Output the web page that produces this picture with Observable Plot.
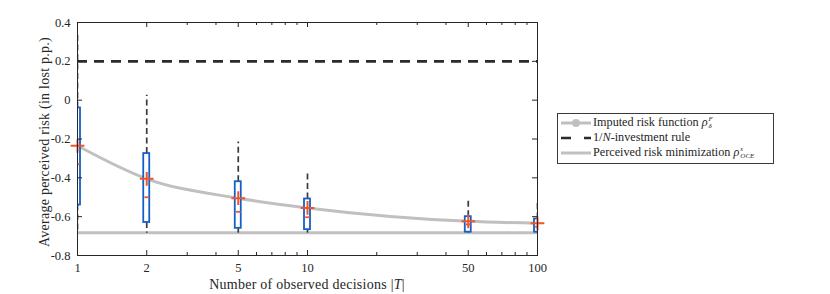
<!DOCTYPE html>
<html>
<head>
<meta charset="utf-8">
<script src="https://cdn.jsdelivr.net/npm/d3@7"></script>
<script src="https://cdn.jsdelivr.net/npm/@observablehq/plot@0.6"></script>
<style>
  body { margin: 0; background: #fff; }
  #wrap { position: relative; width: 830px; height: 294px; font-family: "Liberation Serif", "Times New Roman", Times, "DejaVu Serif", serif; color: #262626; }
  .lab { position: absolute; white-space: nowrap; font-size: 14px; letter-spacing: 0.25px; }
  #ylab { left: 45px; top: 142px; transform: translate(-50%, -50%) rotate(-90deg); }
  #xlab { left: 307px; top: 277px; transform: translateX(-50%); }
  #legend { position: absolute; left: 557px; top: 113px; width: 215px; height: 48px; border: 1px solid #3a3a3a; background: #fff; font-size: 12.2px; padding-top: 1px; }
  .row { display: flex; align-items: center; height: 15px; white-space: nowrap; }
  .row svg { width: 32px; height: 12px; flex: none; margin-left: 2px; margin-right: 1px; }
  .ss { display: inline-flex; flex-direction: column; font-size: 7px; line-height: 7px; vertical-align: middle; font-style: italic; margin-left: 1px; }
</style>
</head>
<body>
<div id="wrap">
  <div id="chart"></div>
  <div class="lab" id="ylab">Average perceived risk (in lost p.p.)</div>
  <div class="lab" id="xlab">Number of observed decisions |<i>T</i>|</div>
  <div id="legend">
    <div class="row"><svg viewBox="0 0 32 12"><line x1="1" x2="31" y1="6" y2="6" stroke="#c0c0c0" stroke-width="3"/><circle cx="16" cy="6" r="4" fill="#c0c0c0"/></svg><span>Imputed risk function <i>ρ</i><span class="ss"><span>F</span><span>δ</span></span></span></div>
    <div class="row"><svg viewBox="0 0 32 12"><line x1="1" x2="31" y1="6" y2="6" stroke="#2b2b2b" stroke-width="2.6" stroke-dasharray="10 13"/></svg><span>1/<i>N</i>-investment rule</span></div>
    <div class="row"><svg viewBox="0 0 32 12"><line x1="1" x2="31" y1="6" y2="6" stroke="#c0c0c0" stroke-width="3"/></svg><span>Perceived risk minimization <i>ρ</i><span class="ss"><span>s</span><span>OCE</span></span></span></div>
  </div>
</div>
<script>
// Number of observed decisions
const decisions = [1, 2, 5, 10, 50, 100];
// Box plot statistics
const whiskerHigh = [0.34, 0.025, -0.215, -0.366, -0.512, -0.53];
const q3 = [-0.04, -0.275, -0.42, -0.509, -0.60, -0.612];
const median = [-0.33, -0.50, -0.575, -0.603, -0.64, -0.652];
const q1 = [-0.54, -0.63, -0.66, -0.667, -0.68, -0.68];
const whiskerLow = [-0.68, -0.685, -0.685, -0.685, -0.685, -0.685];
// Imputed risk function (means)
const imputed = [-0.235, -0.405, -0.505, -0.555, -0.624, -0.634];
// Reference lines
const oneOverN = 0.2;
const perceivedMin = -0.683;
// Ticks
const xTicks = [1, 2, 5, 10, 50, 100];
const xMinor = [3, 4, 6, 7, 8, 9, 20, 30, 40, 60, 70, 80, 90];
const yTicks = [0.4, 0.2, 0, -0.2, -0.4, -0.6, -0.8];

const rows = decisions.map((x, i) => ({
  x, hi: whiskerHigh[i], q3: q3[i], med: median[i], q1: q1[i], lo: whiskerLow[i], mean: imputed[i]
}));

const W = 830, H = 294, mL = 77, mR = 293, mT = 22, mB = 39;
const pw = W - mL - mR, ph = H - mT - mB;

const hline = { draw(ctx, size) { const w = Math.sqrt(size) / 2; ctx.moveTo(-w, 0); ctx.lineTo(w, 0); } };

const blue = "#1560c8", red = "#f0552a", gray = "#c0c0c0", dark = "#262626";

const chart = Plot.plot({
  width: W, height: H,
  marginLeft: mL, marginRight: mR, marginTop: mT, marginBottom: mB,
  style: { fontFamily: "'Liberation Serif', 'Times New Roman', Times, 'DejaVu Serif', serif", fontSize: "12.5px", color: dark, background: "#fff" },
  x: { type: "log", domain: [1, 100] },
  y: { domain: [-0.8, 0.4] },
  marks: [
    Plot.ruleY([oneOverN], { y: d => d, stroke: "#2b2b2b", strokeWidth: 2.6, strokeDasharray: "10 7" }),
    Plot.ruleY([perceivedMin], { y: d => d, stroke: gray, strokeWidth: 3 }),
    Plot.line(rows, { x: "x", y: "mean", stroke: gray, strokeWidth: 3, curve: "monotone-x" }),
    Plot.ruleX(rows, { x: "x", y1: "q3", y2: "hi", stroke: "#3a3a3a", strokeWidth: 1.7, strokeDasharray: "6 3.5", clip: true }),
    Plot.ruleX(rows, { x: "x", y1: "q1", y2: "lo", stroke: "#3a3a3a", strokeWidth: 1.7, strokeDasharray: "6 3.5", clip: true }),
    Plot.rect(rows, { x1: "x", x2: "x", y1: "q1", y2: "q3", insetLeft: -3, insetRight: -3, fill: "#fff", stroke: blue, strokeWidth: 1.8, clip: true }),
    Plot.dot(rows, { x: "x", y: "med", symbol: hline, r: 2.6, stroke: red, strokeWidth: 1.8, fill: "none", clip: true }),
    Plot.dot(rows, { x: "x", y: "mean", symbol: "plus", r: 4.5, stroke: red, strokeWidth: 2 }),
    Plot.frame({ stroke: dark, strokeWidth: 1 }),
    Plot.tickX(xTicks, { x: d => d, insetTop: ph - 5, stroke: dark }),
    Plot.tickX(xTicks, { x: d => d, insetBottom: ph - 5, stroke: dark }),
    Plot.tickX(xMinor, { x: d => d, insetTop: ph - 3, stroke: dark }),
    Plot.tickX(xMinor, { x: d => d, insetBottom: ph - 3, stroke: dark }),
    Plot.tickY(yTicks, { y: d => d, insetRight: pw - 5, stroke: dark }),
    Plot.tickY(yTicks, { y: d => d, insetLeft: pw - 5, stroke: dark }),
    Plot.axisX({ ticks: xTicks, tickSize: 0, tickPadding: 8, tickFormat: d => String(d), label: null }),
    Plot.axisY({ ticks: yTicks, tickSize: 0, tickPadding: 7, tickFormat: d => d === 0 ? "0" : d.toFixed(1), label: null })
  ]
});
document.getElementById("chart").appendChild(chart);
</script>
</body>
</html>
